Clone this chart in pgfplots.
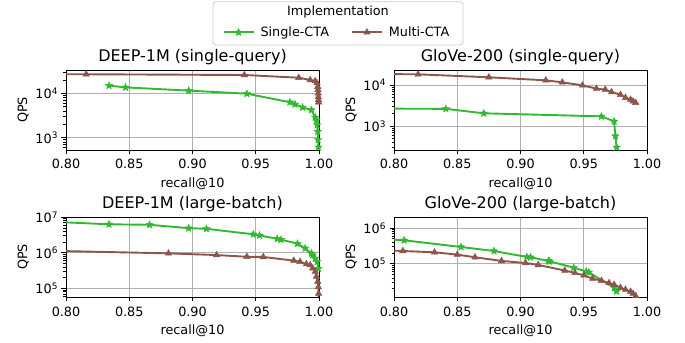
\documentclass[border=0pt]{standalone}
\usepackage{fontspec}
\setmainfont{DejaVu Sans}
\usepackage{pgfplots}
\pgfplotsset{compat=1.18}
\definecolor{cgreen}{RGB}{50,185,50}
\definecolor{cbrown}{RGB}{140,86,75}
\definecolor{cgrid}{RGB}{176,176,176}
\definecolor{cframe}{RGB}{204,204,204}
\newcommand\tickfont{\fontsize{12.8bp}{15bp}\selectfont}
\newcommand\titlefont{\fontsize{16bp}{19bp}\selectfont}
\pgfdeclareplotmark{fstar}{%
  \pgfpathmoveto{\pgfpointpolar{90}{\pgfplotmarksize}}%
  \pgfpathlineto{\pgfpointpolar{126}{0.45\pgfplotmarksize}}%
  \pgfpathlineto{\pgfpointpolar{162}{\pgfplotmarksize}}%
  \pgfpathlineto{\pgfpointpolar{198}{0.45\pgfplotmarksize}}%
  \pgfpathlineto{\pgfpointpolar{234}{\pgfplotmarksize}}%
  \pgfpathlineto{\pgfpointpolar{270}{0.45\pgfplotmarksize}}%
  \pgfpathlineto{\pgfpointpolar{306}{\pgfplotmarksize}}%
  \pgfpathlineto{\pgfpointpolar{342}{0.45\pgfplotmarksize}}%
  \pgfpathlineto{\pgfpointpolar{18}{\pgfplotmarksize}}%
  \pgfpathlineto{\pgfpointpolar{54}{0.45\pgfplotmarksize}}%
  \pgfpathclose
  \pgfusepathqfillstroke
}
\pgfplotsset{
  myax/.style={
    scale only axis, width=253bp, height=80bp,
    xmin=0.8, xmax=1.0,
    xtick={0.8,0.85,0.9,0.95,1.0},
    xticklabels={0.80,0.85,0.90,0.95,1.00},
    grid=major, major grid style={color=cgrid, line width=0.8bp},
    tick align=outside, tick pos=left,
    major tick length=4.5bp, minor tick length=2.5bp,
    major tick style={black, line width=0.8bp},
    minor tick style={black, line width=0.6bp},
    axis line style={line width=0.8bp},
    ticklabel style={font=\tickfont},
    xticklabel style={yshift=-1.5bp},
    yticklabel={\pgfmathtruncatemacro\myexp{round(\tick)}10\textsuperscript{\myexp}},
    xlabel={recall@10}, ylabel={QPS},
    label style={font=\tickfont},
    xlabel style={yshift=-2bp},
    title style={font=\titlefont, yshift=-4bp},
    clip=true,
  },
  sc/.style={color=cgreen, line width=1.9bp, mark=fstar, mark size=3.8bp, mark options={line width=0.5bp}},
  mc/.style={color=cbrown, line width=1.9bp, mark=triangle*, mark size=3.7bp, mark options={line width=0.5bp}},
}
\begin{document}
\begin{tikzpicture}
% top-left
\begin{axis}[ymode=log, log basis y=10, myax, at={(66bp,193bp)}, anchor=south west,
  title={DEEP-1M (single-query)}, ymin=525, ymax=33600,
  legend style={at={(axis description cs:1.071,1.471)}, anchor=center, draw=none, fill=none,
    font=\tickfont, legend columns=2,
    /tikz/every odd column/.append style={column sep=4bp},
    /tikz/every even column/.append style={column sep=20bp}},
  legend image code/.code={\draw[mark repeat=2,mark phase=2,#1] plot coordinates {(0bp,0bp)(15bp,0bp)(30bp,0bp)};}]
\addplot[sc] coordinates {(0.834,14900)(0.847,13600)(0.897,11500)(0.943,9800)(0.977,6300)(0.981,5650)(0.987,4800)(0.994,4200)(0.997,2870)(0.998,2500)(0.9985,1930)(0.999,1370)(0.9993,890)(0.9995,605)};
\addlegendentry{Single-CTA}
\addplot[mc] coordinates {(0.79,27000)(0.816,26900)(0.941,25900)(0.984,22500)(0.993,20000)(0.997,19000)(0.9985,17000)(0.999,14100)(0.9992,12000)(0.9994,10000)(0.9995,8300)(0.9996,7100)(0.9997,6300)};
\addlegendentry{Multi-CTA}
\end{axis}
% top-right
\begin{axis}[ymode=log, log basis y=10, myax, at={(394bp,193bp)}, anchor=south west,
  title={GloVe-200 (single-query)}, ymin=260, ymax=23200]
\addplot[sc] coordinates {(0.795,2650)(0.841,2620)(0.871,2040)(0.964,1720)(0.974,1300)(0.975,570)(0.976,302)};
\addplot[mc] coordinates {(0.79,18500)(0.819,18200)(0.875,15400)(0.920,13000)(0.933,11600)(0.949,9800)(0.960,8150)(0.967,7700)(0.972,6750)(0.979,5800)(0.983,4900)(0.987,4400)(0.989,4000)(0.991,3700)};
\end{axis}
% bottom-left
\begin{axis}[ymode=log, log basis y=10, myax, at={(66bp,46bp)}, anchor=south west,
  title={DEEP-1M (large-batch)}, ymin=57000, ymax=1.01e7]
\addplot[sc] coordinates {(0.79,7.4e6)(0.834,6.3e6)(0.866,6.1e6)(0.897,4.9e6)(0.911,4.7e6)(0.948,3.3e6)(0.953,3.06e6)(0.967,2.46e6)(0.970,2.33e6)(0.983,1.8e6)(0.989,1.33e6)(0.994,9.6e5)(0.995,8.6e5)(0.997,6.9e5)(0.9985,5.6e5)(0.9995,3.6e5)};
\addplot[mc] coordinates {(0.79,1.13e6)(0.881,9.6e5)(0.919,8.6e5)(0.943,7.7e5)(0.956,7.6e5)(0.980,6.0e5)(0.985,5.6e5)(0.990,4.8e5)(0.993,4.5e5)(0.995,3.65e5)(0.997,2.95e5)(0.998,2.15e5)(0.999,1.55e5)(0.9995,1.09e5)(0.9997,7.1e4)(0.9998,5.0e4)};
\end{axis}
% bottom-right
\begin{axis}[ymode=log, log basis y=10, myax, at={(394bp,46bp)}, anchor=south west,
  title={GloVe-200 (large-batch)}, ymin=11600, ymax=2.03e6]
\addplot[sc] coordinates {(0.79,4.9e5)(0.808,4.51e5)(0.853,2.93e5)(0.879,2.26e5)(0.905,1.54e5)(0.908,1.51e5)(0.922,1.19e5)(0.923,1.16e5)(0.942,7.7e4)(0.952,6.0e4)(0.954,5.7e4)(0.974,2.1e4)(0.976,1.67e4)};
\addplot[mc] coordinates {(0.79,2.4e5)(0.807,2.26e5)(0.832,2.08e5)(0.850,1.79e5)(0.864,1.51e5)(0.885,1.19e5)(0.904,1.04e5)(0.914,9.2e4)(0.935,6.4e4)(0.943,5.5e4)(0.950,4.7e4)(0.957,3.8e4)(0.964,3.33e4)(0.970,2.87e4)(0.974,2.58e4)(0.979,2.12e4)(0.983,1.87e4)(0.987,1.64e4)(0.989,1.44e4)(0.991,1.25e4)};
\end{axis}
\draw[rounded corners=3bp, draw=cframe, line width=0.8bp] (213bp,298bp) rectangle (463bp,341.3bp);
\node[font=\tickfont] at (338bp,330.7bp) {Implementation};
\pgfresetboundingbox
\path[use as bounding box] (0,0) rectangle (685bp,343bp);
\end{tikzpicture}
\end{document}
